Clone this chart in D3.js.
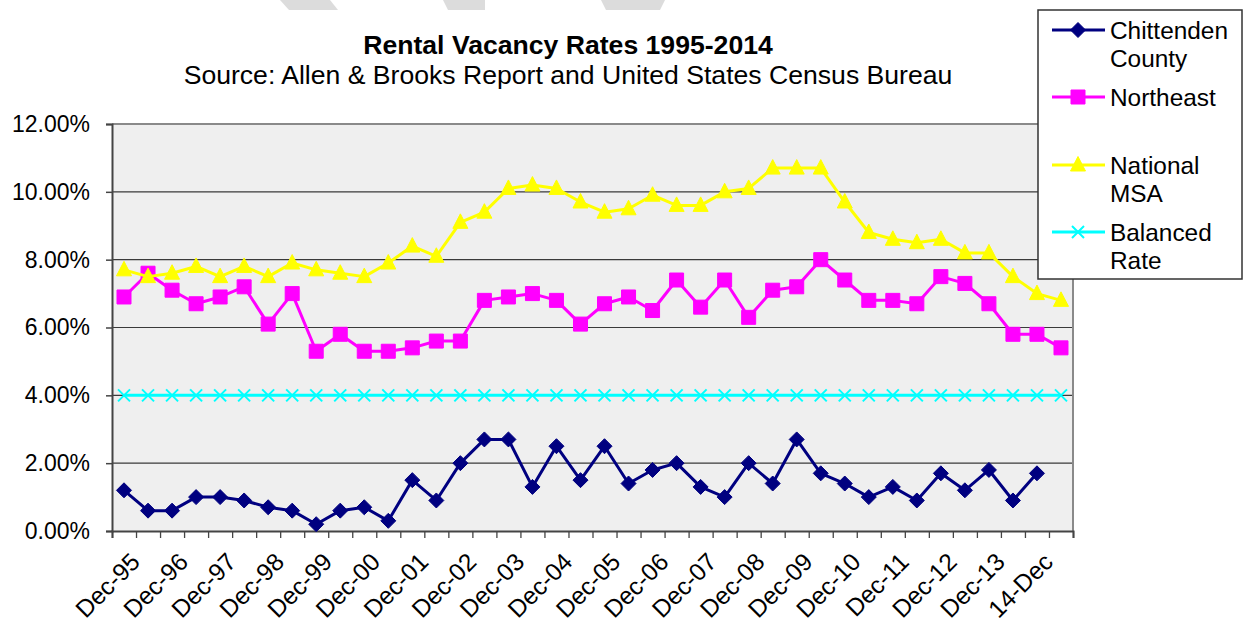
<!DOCTYPE html>
<html>
<head>
<meta charset="utf-8">
<script src="https://cdn.jsdelivr.net/npm/d3@7/dist/d3.min.js"></script>
<style>
  body { margin: 0; background: #fff; }
  svg { display: block; font-family: "Liberation Sans", Arial, sans-serif; }
</style>
</head>
<body>
<div id="chart"></div>
<script>
var categories = [
  "Dec-95", "Jun-96", "Dec-96", "Jun-97", "Dec-97", "Jun-98", "Dec-98", "Jun-99",
  "Dec-99", "Jun-00", "Dec-00", "Jun-01", "Dec-01", "Jun-02", "Dec-02", "Jun-03",
  "Dec-03", "Jun-04", "Dec-04", "Jun-05", "Dec-05", "Jun-06", "Dec-06", "Jun-07",
  "Dec-07", "Jun-08", "Dec-08", "Jun-09", "Dec-09", "Jun-10", "Dec-10", "Jun-11",
  "Dec-11", "Jun-12", "Dec-12", "Jun-13", "Dec-13", "Jun-14", "14-Dec", "Jun-15"
];
var tickLabels = [
  "Dec-95", "Dec-96", "Dec-97", "Dec-98", "Dec-99", "Dec-00", "Dec-01", "Dec-02",
  "Dec-03", "Dec-04", "Dec-05", "Dec-06", "Dec-07", "Dec-08", "Dec-09", "Dec-10",
  "Dec-11", "Dec-12", "Dec-13", "14-Dec"
];
var yTicks = [0, 2, 4, 6, 8, 10, 12];

var chittenden = [1.2, 0.6, 0.6, 1.0, 1.0, 0.9, 0.7, 0.6, 0.2, 0.6, 0.7, 0.3, 1.5, 0.9, 2.0, 2.7, 2.7, 1.3, 2.5, 1.5,
  2.5, 1.4, 1.8, 2.0, 1.3, 1.0, 2.0, 1.4, 2.7, 1.7, 1.4, 1.0, 1.3, 0.9, 1.7, 1.2, 1.8, 0.9, 1.7];
var northeast = [6.9, 7.6, 7.1, 6.7, 6.9, 7.2, 6.1, 7.0, 5.3, 5.8, 5.3, 5.3, 5.4, 5.6, 5.6, 6.8, 6.9, 7.0, 6.8, 6.1,
  6.7, 6.9, 6.5, 7.4, 6.6, 7.4, 6.3, 7.1, 7.2, 8.0, 7.4, 6.8, 6.8, 6.7, 7.5, 7.3, 6.7, 5.8, 5.8, 5.4];
var nationalMsa = [7.7, 7.5, 7.6, 7.8, 7.5, 7.8, 7.5, 7.9, 7.7, 7.6, 7.5, 7.9, 8.4, 8.1, 9.1, 9.4, 10.1, 10.2, 10.1, 9.7,
  9.4, 9.5, 9.9, 9.6, 9.6, 10.0, 10.1, 10.7, 10.7, 10.7, 9.7, 8.8, 8.6, 8.5, 8.6, 8.2, 8.2, 7.5, 7.0, 6.8];
var balancedRate = [4, 4, 4, 4, 4, 4, 4, 4, 4, 4, 4, 4, 4, 4, 4, 4, 4, 4, 4, 4,
  4, 4, 4, 4, 4, 4, 4, 4, 4, 4, 4, 4, 4, 4, 4, 4, 4, 4, 4, 4];

var series = [
  {name: ["Chittenden", "County"], values: chittenden, color: "#000080", marker: "diamond"},
  {name: ["Northeast"], values: northeast, color: "#ff00ff", marker: "square"},
  {name: ["National", "MSA"], values: nationalMsa, color: "#ffff00", marker: "triangle"},
  {name: ["Balanced", "Rate"], values: balancedRate, color: "#00ffff", marker: "cross"}
];

var width = 1243, height = 624;
var plot = {left: 112, right: 1073, top: 124, bottom: 531};

var svg = d3.select("#chart").append("svg")
  .attr("width", width)
  .attr("height", height);

// faint watermark fragments along the top edge
var marks = [
  [[280, 0], [330, 0], [338, 10], [289, 10]],
  [[443, 0], [485, 0], [485, 10], [448, 10]],
  [[601, 0], [665, 0], [660, 10], [606, 10]]
];
svg.selectAll(".wm").data(marks).enter().append("polygon")
  .attr("points", function (d) { return d.map(function (p) { return p.join(","); }).join(" "); })
  .attr("fill", "#dcdcdc");

var x = d3.scaleBand()
  .domain(categories)
  .range([plot.left, plot.right]);
var xEdge = d3.scaleLinear()
  .domain([0, categories.length])
  .range([plot.left, plot.right]);
var y = d3.scaleLinear()
  .domain([0, 12])
  .range([plot.bottom, plot.top]);

function cx(i) { return x(categories[i]) + x.bandwidth() / 2; }

// plot background
svg.append("rect")
  .attr("x", plot.left).attr("y", plot.top)
  .attr("width", plot.right - plot.left).attr("height", plot.bottom - plot.top)
  .attr("fill", "#efefef");

// gridlines
svg.append("g").selectAll("line")
  .data(yTicks.filter(function (d) { return d > 0 && d < 12; }))
  .enter().append("line")
  .attr("x1", plot.left).attr("x2", plot.right)
  .attr("y1", function (d) { return y(d); })
  .attr("y2", function (d) { return y(d); })
  .attr("stroke", "#3a3a3a").attr("stroke-width", 1.2);

// top and right borders
svg.append("line").attr("x1", plot.left).attr("x2", plot.right)
  .attr("y1", plot.top).attr("y2", plot.top)
  .attr("stroke", "#8a8a8a").attr("stroke-width", 2);
svg.append("line").attr("x1", plot.right).attr("x2", plot.right)
  .attr("y1", plot.top).attr("y2", plot.bottom)
  .attr("stroke", "#8a8a8a").attr("stroke-width", 2);

// y axis
var yAxis = svg.append("g")
  .attr("transform", "translate(" + plot.left + ",0)")
  .call(d3.axisLeft(y).tickValues(yTicks).tickSize(6).tickPadding(16)
    .tickFormat(function (d) { return d.toFixed(2) + "%"; }));
yAxis.select(".domain").attr("stroke", "#444").attr("stroke-width", 2);
yAxis.selectAll(".tick line").attr("stroke", "#444").attr("stroke-width", 1.5);
yAxis.selectAll(".tick text")
  .attr("font-size", 23).attr("fill", "#000")
  .attr("font-family", "Liberation Sans, Arial, sans-serif");

// x axis
var xAxis = svg.append("g")
  .attr("transform", "translate(0," + plot.bottom + ")")
  .call(d3.axisBottom(xEdge).tickValues(d3.range(categories.length + 1)).tickSize(7)
    .tickFormat(""));
xAxis.select(".domain").attr("stroke", "#444").attr("stroke-width", 2);
xAxis.selectAll(".tick line").attr("stroke", "#444").attr("stroke-width", 1.3);

svg.append("g").selectAll("text")
  .data(tickLabels)
  .enter().append("text")
  .attr("transform", function (d, i) {
    return "translate(" + (cx(i * 2) + 5) + "," + (plot.bottom + 20) + ") rotate(-45)";
  })
  .attr("text-anchor", "end")
  .attr("dy", "0.72em")
  .attr("font-size", 24.5)
  .text(function (d) { return d; });

// markers
function markerPath(type) {
  if (type === "diamond") return "M0,-7.5L7.5,0L0,7.5L-7.5,0Z";
  if (type === "square") return "M-7,-7H7V7H-7Z";
  if (type === "triangle") return "M0,-8.5L7.5,6L-7.5,6Z";
  return "M-6,-6L6,6M-6,6L6,-6";
}

var line = d3.line()
  .x(function (d, i) { return cx(i); })
  .y(function (d) { return y(d); });

series.forEach(function (s) {
  var g = svg.append("g");
  g.append("path")
    .datum(s.values)
    .attr("d", line)
    .attr("fill", "none")
    .attr("stroke", s.color)
    .attr("stroke-width", 3)
    .attr("stroke-linejoin", "round");
  g.selectAll("path.m")
    .data(s.values)
    .enter().append("path")
    .attr("class", "m")
    .attr("transform", function (d, i) { return "translate(" + cx(i) + "," + y(d) + ")"; })
    .attr("d", markerPath(s.marker))
    .attr("fill", s.marker === "cross" ? "none" : s.color)
    .attr("stroke", s.color)
    .attr("stroke-width", s.marker === "cross" ? 2 : 1);
});

// title
svg.append("text")
  .attr("x", 568).attr("y", 54)
  .attr("text-anchor", "middle")
  .attr("font-size", 26.6).attr("font-weight", "bold")
  .text("Rental Vacancy Rates 1995-2014");
svg.append("text")
  .attr("x", 568).attr("y", 84)
  .attr("text-anchor", "middle")
  .attr("font-size", 26.6)
  .text("Source: Allen & Brooks Report and United States Census Bureau");

// legend
var legend = svg.append("g");
legend.append("rect")
  .attr("x", 1038).attr("y", 10)
  .attr("width", 204).attr("height", 269)
  .attr("fill", "#fff").attr("stroke", "#333").attr("stroke-width", 1.5);

var legendY = [30, 97, 165, 232];
series.forEach(function (s, k) {
  var ly = legendY[k];
  var item = legend.append("g");
  item.append("line")
    .attr("x1", 1052).attr("x2", 1105)
    .attr("y1", ly).attr("y2", ly)
    .attr("stroke", s.color).attr("stroke-width", 3);
  item.append("path")
    .attr("transform", "translate(1078," + ly + ")")
    .attr("d", markerPath(s.marker))
    .attr("fill", s.marker === "cross" ? "none" : s.color)
    .attr("stroke", s.color)
    .attr("stroke-width", s.marker === "cross" ? 2 : 1);
  item.selectAll("text")
    .data(s.name)
    .enter().append("text")
    .attr("x", 1110)
    .attr("y", function (d, j) { return ly + j * 28; })
    .attr("dy", "0.35em")
    .attr("font-size", 24.4)
    .text(function (d) { return d; });
});
</script>
</body>
</html>
